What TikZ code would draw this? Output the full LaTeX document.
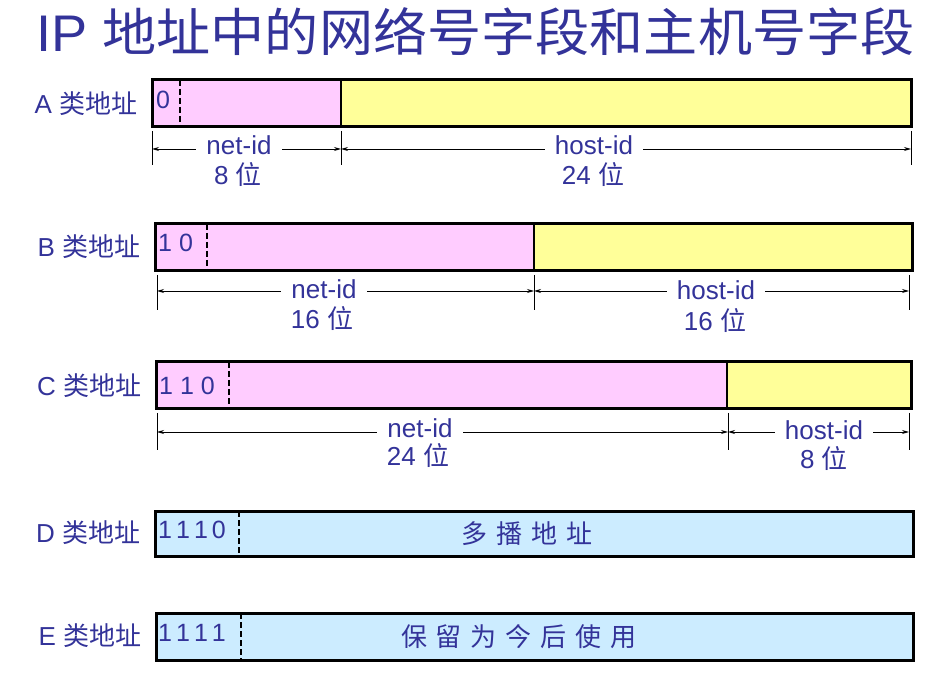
\documentclass[tikz,border=0pt]{standalone}
\usepackage{graphicx}
\usepackage{fontspec}
\setmainfont{Liberation Sans}
\newfontfamily\cjk{Noto Sans CJK SC}
\usetikzlibrary{arrows.meta}
\definecolor{navy}{RGB}{51,51,153}
\definecolor{pinkc}{RGB}{255,204,255}
\definecolor{yellowc}{RGB}{255,255,153}
\definecolor{bluec}{RGB}{204,236,255}
\newcommand\zh[1]{{\cjk #1}}
\newcommand\zsp{\hspace{9pt}}
\newcommand\bk{\kern4pt}
\tikzset{
  txt/.style={text=navy, inner sep=0pt, font=\fontsize{26}{28}\selectfont},
  rowlabel/.style={txt},
  bitstxt/.style={txt, anchor=west, font=\fontsize{25}{28}\selectfont},
  dimlabel/.style={txt, fill=white, inner xsep=10pt, inner ysep=1pt},
  dimline/.style={line width=0.9pt, {Stealth[length=7pt,width=4pt]}-{Stealth[length=7pt,width=4pt]}},
  tickline/.style={line width=0.9pt},
  frame/.style={line width=3pt},
  divider/.style={line width=1.8pt},
  bitdash/.style={line width=2.2pt, dash pattern=on 6pt off 3pt},
}
\begin{document}
\begin{tikzpicture}[x=1pt,y=-1pt]
\useasboundingbox (0,0) rectangle (927,676);
% title
\node[anchor=west, text=navy, inner sep=0pt, font=\fontsize{50}{54}\selectfont] (title) at (36,32) {\scalebox{1.083}[1.03]{IP \zh{地址中的网络号字段和主机号字段}}};

% ---------- A ----------
\node[rowlabel] (la) at (86,104) {A \zh{类地址}};
\fill[pinkc] (152,80) rectangle (341,127);
\fill[yellowc] (341,80) rectangle (911,127);
\draw[divider] (341,80) -- (341,127);
\draw[bitdash] (180,80) -- (180,127);
\draw[frame] (152,80) rectangle (911,127);
\node[bitstxt] (ba) at (156,100) {0};
\draw[tickline] (152,131) -- (152,165);
\draw[tickline] (341,131) -- (341,165);
\draw[tickline] (911,131) -- (911,165);
\coordinate (a0) at (152,149);
\coordinate (a1) at (341,149);
\coordinate (a2) at (911,149);
\draw[dimline] (a0) -- (a1);
\draw[dimline] (a1) -- (a2);
\node[dimlabel] (anet) at (239,145) {net-id};
\node[txt] (anetb) at (238,175) {8 \zh{位}};
\node[dimlabel] (ahost) at (594,145) {host-id};
\node[txt] (ahostb) at (593,175) {24 \zh{位}};

% ---------- B ----------
\node[rowlabel] (lb) at (89,247) {B \zh{类地址}};
\fill[pinkc] (155,224) rectangle (534,271);
\fill[yellowc] (534,224) rectangle (912,271);
\draw[divider] (534,224) -- (534,271);
\draw[bitdash] (207,224) -- (207,271);
\draw[frame] (155,224) rectangle (912,271);
\node[bitstxt] (bb) at (158,243) {1 0};
\draw[tickline] (157,275) -- (157,310);
\draw[tickline] (534,275) -- (534,310);
\draw[tickline] (909,275) -- (909,310);
\coordinate (b0) at (157,291);
\coordinate (b1) at (534,291);
\coordinate (b2) at (909,291);
\draw[dimline] (b0) -- (b1);
\draw[dimline] (b1) -- (b2);
\node[dimlabel] (bnet) at (324,289) {net-id};
\node[txt] (bnetb) at (322,319) {16 \zh{位}};
\node[dimlabel] (bhost) at (716,290) {host-id};
\node[txt] (bhostb) at (715,321) {16 \zh{位}};

% ---------- C ----------
\node[rowlabel] (lc) at (89,386) {C \zh{类地址}};
\fill[pinkc] (156,362) rectangle (727,409);
\fill[yellowc] (727,362) rectangle (911,409);
\draw[divider] (727,362) -- (727,409);
\draw[bitdash] (229,362) -- (229,409);
\draw[frame] (156,362) rectangle (911,409);
\node[bitstxt] (bc) at (159,386) {1 1 0};
\draw[tickline] (157,413) -- (157,450);
\draw[tickline] (728,413) -- (728,450);
\draw[tickline] (909,413) -- (909,450);
\coordinate (c0) at (157,432);
\coordinate (c1) at (728,432);
\coordinate (c2) at (909,432);
\draw[dimline] (c0) -- (c1);
\draw[dimline] (c1) -- (c2);
\node[dimlabel] (cnet) at (420,428) {net-id};
\node[txt] (cnetb) at (418,456) {24 \zh{位}};
\node[dimlabel] (chost) at (824,430) {host-id};
\node[txt] (chostb) at (824,459) {8 \zh{位}};

% ---------- D ----------
\node[rowlabel] (ld) at (88,533) {D \zh{类地址}};
\fill[bluec] (155,511) rectangle (913,556);
\draw[bitdash] (239,511) -- (239,556);
\draw[frame] (155,511) rectangle (913,556);
\node[bitstxt] (bd) at (158,530) {1\bk1\bk1\bk0};
\node[txt] (dtxt) at (527,534) {\zh{多\zsp 播\zsp 地\zsp 址}};

% ---------- E ----------
\node[rowlabel] (le) at (90,636) {E \zh{类地址}};
\fill[bluec] (156,613) rectangle (913,660);
\draw[bitdash] (241,613) -- (241,660);
\draw[frame] (156,613) rectangle (913,660);
\node[bitstxt] (be) at (158,633) {1\bk1\bk1\bk1};
\node[txt] (etxt) at (519,637) {\zh{保\zsp 留\zsp 为\zsp 今\zsp 后\zsp 使\zsp 用}};
\end{tikzpicture}
\end{document}
